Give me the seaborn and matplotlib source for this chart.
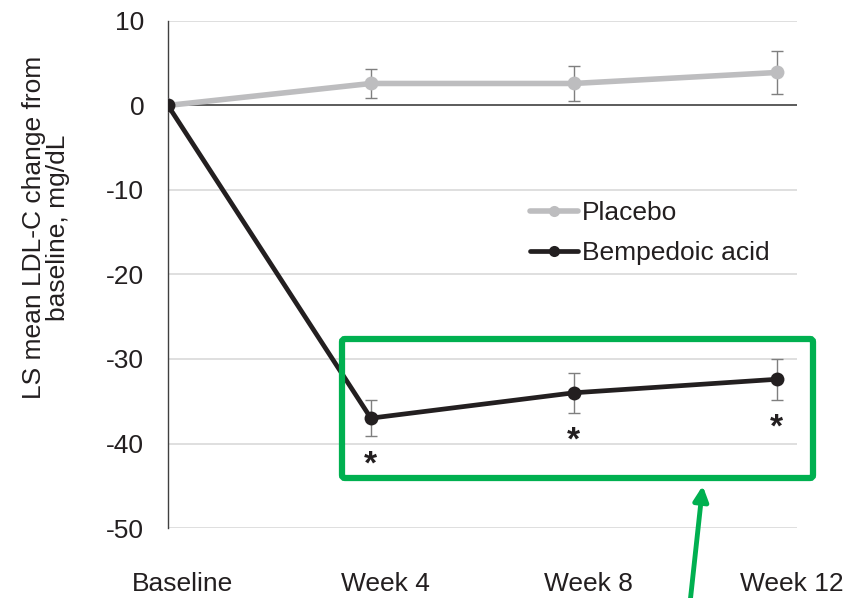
import numpy as np
import pandas as pd
import matplotlib
matplotlib.use("Agg")
import matplotlib.pyplot as plt
import matplotlib.patches as mpatches
import matplotlib.transforms as mtransforms
import seaborn as sns

sns.set_style("white")
plt.rcParams['font.family'] = ['Liberation Sans', 'DejaVu Sans']
plt.rcParams['axes.unicode_minus'] = False

# data
timepoints = ["Baseline", "Week 4", "Week 8", "Week 12"]
placebo_mean = [0.0, 2.6, 2.6, 3.9]
placebo_err = [0.0, 1.7, 2.05, 2.55]
bempedoic_mean = [0.0, -37.0, -34.0, -32.4]
bempedoic_err = [0.0, 2.15, 2.35, 2.4]
yticks = [10, 0, -10, -20, -30, -40, -50]

x = np.arange(len(timepoints))
df = pd.DataFrame({
    "x": np.concatenate([x, x]),
    "change": placebo_mean + bempedoic_mean,
    "group": ["Placebo"] * 4 + ["Bempedoic acid"] * 4,
})

fig = plt.figure(figsize=(8.5, 5.98), dpi=100)
ax = fig.add_axes([0.1976, 0.117, 0.74, 0.848])

# grid + zero line
for yv in yticks:
    if yv == 0:
        continue
    ax.axhline(yv, color='#d9d9d9', lw=1.2, zorder=0)
ax.axhline(0, color='#404040', lw=1.2, zorder=1)

colors = {"Placebo": "#bdbdbf", "Bempedoic acid": "#231f20"}
widths = {"Placebo": 4.0, "Bempedoic acid": 3.4}
for m, e in [(placebo_mean, placebo_err), (bempedoic_mean, bempedoic_err)]:
    ax.errorbar(x[1:], m[1:], yerr=e[1:], fmt='none', ecolor='#7f7f7f',
                elinewidth=1, capsize=4.5, capthick=1, zorder=2)

sns.lineplot(data=df, x="x", y="change", hue="group", palette=colors,
             hue_order=["Placebo", "Bempedoic acid"], marker='o',
             markersize=10, markeredgewidth=0, ax=ax, legend=False, zorder=3)
for line, grp in zip(ax.get_lines()[-2:], ["Placebo", "Bempedoic acid"]):
    line.set_linewidth(widths[grp])

# significance marks
for xi, m, e in zip(x[1:], bempedoic_mean[1:], bempedoic_err[1:]):
    ax.text(xi, m - e - 3.4, "*", ha='center', va='center', fontsize=24,
            fontweight='bold', color='#231f20')

ax.set_xlim(0, 3.1)
ax.set_ylim(-50, 10)
ax.set_yticks(yticks)
ax.set_xticks(x)
ax.set_xticklabels(timepoints)
ax.tick_params(axis='x', length=0, pad=32, labelsize=19, labelcolor='#231f20')
ax.tick_params(axis='y', length=0, pad=17, labelsize=19, labelcolor='#231f20')
offset = mtransforms.ScaledTranslation(15 / 100, 0, fig.dpi_scale_trans)
for lab in ax.get_xticklabels():
    lab.set_transform(lab.get_transform() + offset)

for s in ['top', 'right', 'bottom']:
    ax.spines[s].set_visible(False)
ax.spines['left'].set_color('#404040')
ax.spines['left'].set_linewidth(1)

ax.set_xlabel("")
ax.set_ylabel("LS mean LDL-C change from\nbaseline, mg/dL", fontsize=19,
              linespacing=1.05, color='#231f20')
ax.yaxis.set_label_coords(-0.155, 0.592)

# legend
handles = [plt.Line2D([], [], color=colors[g], lw=widths[g], marker='o',
                      markersize=8, markeredgewidth=0)
           for g in ["Placebo", "Bempedoic acid"]]
leg = ax.legend(handles, ["Placebo", "Bempedoic acid"], loc='upper left',
                bbox_to_anchor=(0.576, 0.645), frameon=False, fontsize=19,
                handlelength=1.82, handletextpad=0.15, labelspacing=0.6,
                borderpad=0, borderaxespad=0)
for t in leg.get_texts():
    t.set_color('#231f20')

# green highlight box and arrow
green = '#00b050'
box = mpatches.FancyBboxPatch((342, 598 - 478), 471, 139,
                              boxstyle="round,pad=0,rounding_size=3",
                              transform=None, fill=False, edgecolor=green,
                              linewidth=4.5, zorder=5)
fig.add_artist(box)
ax.annotate("", xy=(703, 598 - 483), xycoords='figure pixels',
            xytext=(690, -5), textcoords='figure pixels',
            arrowprops=dict(arrowstyle='-|>', color=green, lw=3.5,
                            mutation_scale=22), annotation_clip=False)

fig.savefig("out.png", dpi=100)
